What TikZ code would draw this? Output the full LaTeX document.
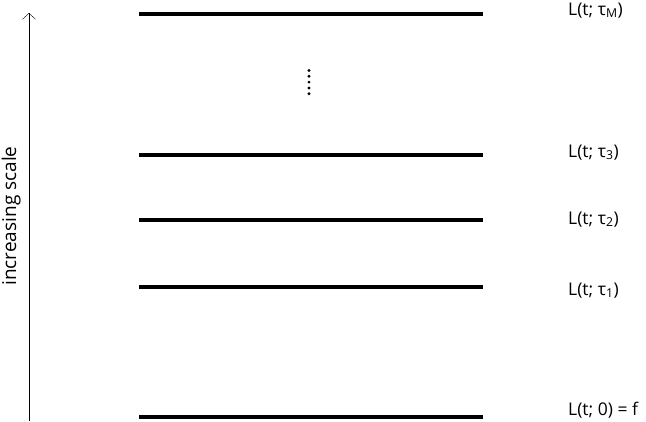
\documentclass[tikz,border=0pt]{standalone}
\usepackage{fontspec}
\setmainfont{Open Sans}
\usetikzlibrary{positioning,arrows.meta}
\begin{document}
\begin{tikzpicture}[x=1pt,y=-1pt,
    level/.style={line width=4pt},
    lab/.style={anchor=base west,inner sep=0pt,font=\fontsize{17.5}{20}\selectfont}]

      \useasboundingbox (0,0) rectangle (646,421);

      %% line ends, one pair per scale
      \coordinate (L0a) at (139,417);  \coordinate (L0b) at (483,417);
      \coordinate (L1a) at (139,287);  \coordinate (L1b) at (483,287);
      \coordinate (L2a) at (139,220);  \coordinate (L2b) at (483,220);
      \coordinate (L3a) at (139,155);  \coordinate (L3b) at (483,155);
      \coordinate (LMa) at (139,14);   \coordinate (LMb) at (483,14);

      \draw[level] (L0a) -- (L0b);
      \draw[level] (L1a) -- (L1b);
      \draw[level] (L2a) -- (L2b);
      \draw[level] (L3a) -- (L3b);
      \draw[level] (LMa) -- (LMb);

      \node (N0) [lab] at (568,415) {L(t; 0) = f};
      \node (N1) [lab] at (568,295) {L(t; τ\textsubscript{1})};
      \node (N2) [lab] at (568,224) {L(t; τ\textsubscript{2})};
      \node (N3) [lab] at (568,157) {L(t; τ\textsubscript{3})};
      \node (NM) [lab] at (568,15)  {L(t; τ\textsubscript{M})};

      %% vertical dots
      \foreach \d in {0,...,4}
        \fill (309,70.5+5.8*\d) circle (1.6pt);

      \coordinate (Abot) at (29,421);
      \coordinate (Atop) at (29,13);
      \draw[-{Straight Barb[length=6pt,width=13pt]}] (Abot) -- (Atop);
      \node (Scale) [rotate=90, anchor=south, inner sep=0pt,
        font=\fontsize{19}{22}\selectfont] at (21,216) {increasing scale};

\end{tikzpicture}
\end{document}
